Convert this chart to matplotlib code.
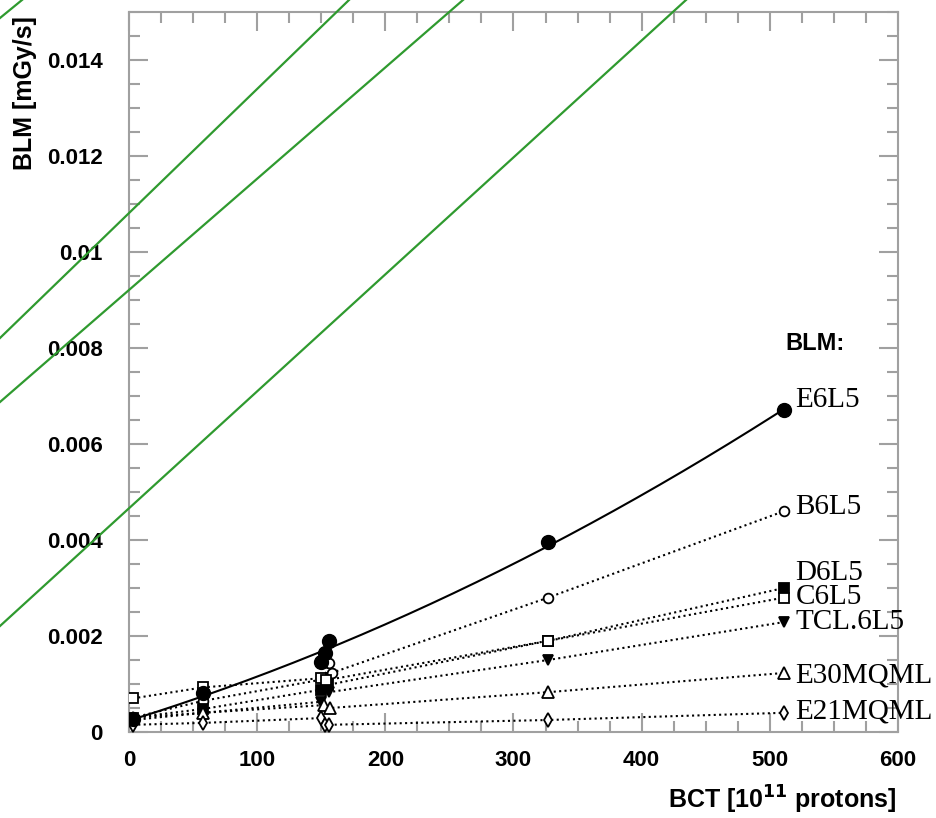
import numpy as np
import matplotlib
matplotlib.use("Agg")
import matplotlib.pyplot as plt
from matplotlib.lines import Line2D
from matplotlib.ticker import MultipleLocator

# ---------------- data ----------------
series_names = ["E6L5", "B6L5", "D6L5", "C6L5", "TCL.6L5", "E30MQML", "E21MQML"]

e6l5_x = [3, 58, 150, 153, 156, 327, 511]
e6l5_y = [0.00027, 0.00081, 0.00145, 0.00165, 0.0019, 0.00396, 0.0067]

b6l5_x = [3, 58, 152, 156, 158, 327, 511]
b6l5_y = [0.0003, 0.00065, 0.0011, 0.00144, 0.00123, 0.0028, 0.0046]

d6l5_x = [3, 58, 150, 155, 327, 511]
d6l5_y = [0.0003, 0.00048, 0.00088, 0.00098, 0.0019, 0.0030]

c6l5_x = [3, 58, 150, 154, 327, 511]
c6l5_y = [0.0007, 0.00093, 0.00112, 0.00108, 0.0019, 0.0028]

tcl_x = [3, 58, 150, 156, 327, 511]
tcl_y = [0.00025, 0.0004, 0.00063, 0.00083, 0.0015, 0.00229]

e30_x = [3, 58, 152, 157, 327, 511]
e30_y = [0.0003, 0.0004, 0.00056, 0.0005, 0.00083, 0.00123]

e21_x = [3, 58, 150, 153, 156, 327, 511]
e21_y = [0.00015, 0.00019, 0.00029, 0.00015, 0.00015, 0.00025, 0.0004]

label_y = [0.00692, 0.00469, 0.00331, 0.00281, 0.00229, 0.00117, 0.00042]

x_ticks = [0, 100, 200, 300, 400, 500, 600]
y_ticks = [0, 0.002, 0.004, 0.006, 0.008, 0.01, 0.012, 0.014]
y_tick_labels = ["0", "0.002", "0.004", "0.006", "0.008", "0.01", "0.012", "0.014"]

# ---------------- figure ----------------
W, H = 937, 818
fig = plt.figure(figsize=(W / 100, H / 100), dpi=100)
ax = fig.add_axes([129 / W, 1 - 732 / H, (898 - 129) / W, (732 - 12) / H])
ax.set_xlim(0, 600)
ax.set_ylim(0, 0.015)

spine_col = "#a0a0a0"
for s in ax.spines.values():
    s.set_color(spine_col)
    s.set_linewidth(1.5)

ax.set_xticks(x_ticks)
ax.set_yticks(y_ticks)
ax.set_yticklabels(y_tick_labels)
ax.xaxis.set_minor_locator(MultipleLocator(25))
ax.yaxis.set_minor_locator(MultipleLocator(0.0005))
ax.tick_params(which="both", direction="in", top=True, right=True, color=spine_col, width=1.5)
ax.tick_params(which="major", length=14)
ax.tick_params(which="minor", length=8)
ax.tick_params(axis="x", which="major", pad=13)
ax.tick_params(axis="y", which="major", pad=19)
for lab in ax.get_xticklabels() + ax.get_yticklabels():
    lab.set_fontfamily("Liberation Sans")
    lab.set_fontweight("bold")
    lab.set_fontsize(16)

dot = (0, (1.0, 1.6))

# E6L5: quadratic fit curve (solid)
coef = np.polyfit(e6l5_x, e6l5_y, 2)
xx = np.linspace(min(e6l5_x), max(e6l5_x), 200)
ax.plot(xx, np.polyval(coef, xx), color="black", lw=1.5, zorder=3)
ax.plot(e6l5_x, e6l5_y, "o", color="black", ms=10, zorder=5)

dotted = [
    (b6l5_x, b6l5_y, "o", "white", 7),
    (d6l5_x, d6l5_y, "s", "black", 7),
    (c6l5_x, c6l5_y, "s", "white", 7),
    (tcl_x, tcl_y, "v", "black", 7),
    (e30_x, e30_y, "^", "white", 8),
    (e21_x, e21_y, "d", "white", 7),
]
for xs, ys, m, fc, ms in dotted:
    ax.plot(xs, ys, linestyle=dot, color="black", lw=1.5, zorder=2)
    ax.plot(xs, ys, m, mfc=fc, mec="black", mew=1.3, ms=ms, zorder=4, linestyle="none")

for name, ly in zip(series_names, label_y):
    ax.text(520, ly, name, fontfamily="Liberation Serif", fontsize=21,
            va="center", ha="left", clip_on=False)

ax.text(512, 0.0081, "BLM:", fontfamily="Liberation Sans", fontweight="bold",
        fontsize=17, va="center", ha="left")

fig.text(897 / W, 1 - 800 / H, r"BCT [10$^{\mathbf{11}}$ protons]", fontfamily="Liberation Sans",
         fontweight="bold", fontsize=18, ha="right", va="center")
fig.text(25 / W, 1 - 93 / H, "BLM [mGy/s]", fontfamily="Liberation Sans", fontweight="bold",
         fontsize=18, rotation=90, ha="center", va="center")

# green overlay strokes (figure pixel coordinates, origin top-left)
green_segments = [((0, 338), (349, 0)), ((0, 402), (463, 0)), ((0, 626), (686, 0)), ((0, 18), (22, 0))]
for (x0, y0), (x1, y1) in green_segments:
    fig.add_artist(Line2D([x0 / W, x1 / W], [1 - y0 / H, 1 - y1 / H], transform=fig.transFigure,
                          color="#2f9a2f", lw=1.6, zorder=10))

fig.savefig("out.png", dpi=100)
